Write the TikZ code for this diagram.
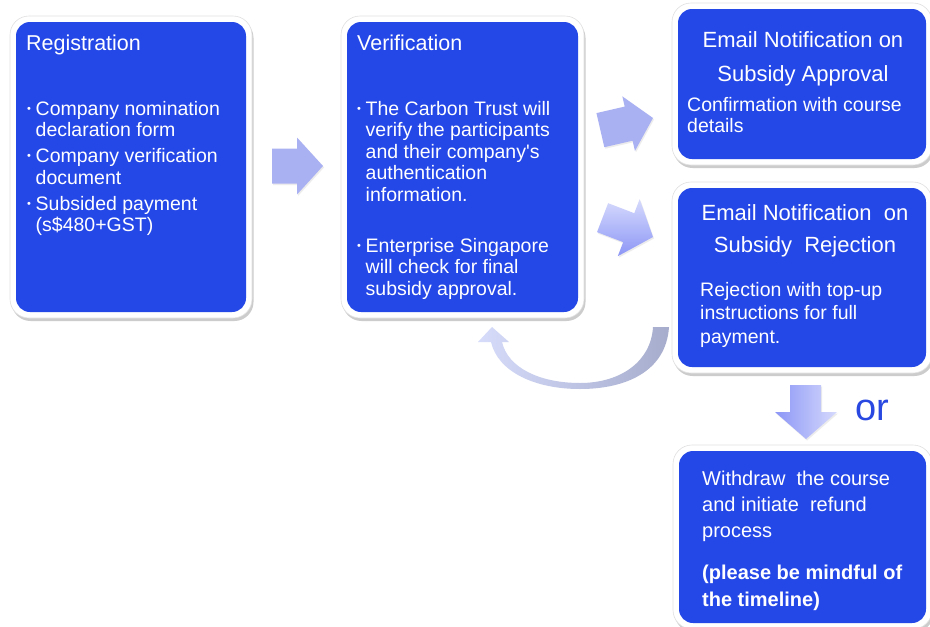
\documentclass[tikz,border=0pt]{standalone}
\usepackage{fontspec}
\setmainfont{Liberation Sans}
\usetikzlibrary{shadows}

\definecolor{boxblue}{RGB}{36,71,232}
\definecolor{arrowlav}{RGB}{170,177,242}
\definecolor{arrowlight}{RGB}{214,218,252}
\definecolor{arrowdeep}{RGB}{140,150,246}
\definecolor{curvegrey}{RGB}{166,172,204}
\definecolor{curvelight}{RGB}{214,220,250}
\definecolor{orblue}{RGB}{40,72,225}

\newcommand{\stagetitle}{\fontsize{21.5}{24}\selectfont}
\newcommand{\stagebody}{\fontsize{19.5}{21.5}\selectfont}
\newcommand{\bul}{\makebox[8.5pt][l]{\raisebox{3pt}{\fontsize{11}{11}\selectfont •}}}
\newcommand{\ind}{\hspace*{8.5pt}}
% block arrow, tip at the origin, pointing along +x
\newcommand{\flowarrow}[4]{(-#1,-#2) -- (-#4,-#2) -- (-#4,-#3) -- (0,0) -- (-#4,#3) -- (-#4,#2) -- (-#1,#2) -- cycle}

\tikzset{
  stageframe/.style={fill=white, draw=black!12, line width=0.6pt, rounded corners=19pt, inner sep=0pt,
    drop shadow={shadow xshift=1.5pt, shadow yshift=-3pt, opacity=0.4}},
  stagefill/.style={fill=boxblue, rounded corners=14pt, inner sep=0pt},
  titletext/.style={text=white, inner sep=0pt, anchor=base west, font=\stagetitle},
  boxtext/.style={text=white, inner sep=0pt, align=left, anchor=north west, font=\stagebody},
  headtext/.style={text=white, inner sep=0pt, align=center, anchor=north},
  arrowshadow/.style={drop shadow={shadow xshift=1pt, shadow yshift=-1.5pt, opacity=0.15}}
}

\begin{document}
\begin{tikzpicture}[x=1pt, y=-1pt]
    \fill[white] (0,0) rectangle (930,627);
    \useasboundingbox (0,0) rectangle (930,627);

    % Registration
    \node[stageframe, minimum width=242, minimum height=302] (reg) at (131,167) {};
    \node[stagefill, minimum width=230, minimum height=290] (reg-fill) at (reg) {};
    \node[titletext] (reg-title) at (26,50) {Registration};
    \node[boxtext] (reg-list) at (27,101) {\bul Company nomination\\ \ind declaration form\\[4.5pt]
        \bul Company verification\\ \ind document\\[4.5pt]
        \bul Subsided payment\\ \ind (s\$480+GST)};

    % Verification
    \node[stageframe, minimum width=243, minimum height=302] (ver) at (462.5,167) {};
    \node[stagefill, minimum width=231, minimum height=290] (ver-fill) at (ver) {};
    \node[titletext] (ver-title) at (357,50) {Verification};
    \node[boxtext] (ver-trust) at (357,101) {\bul The Carbon Trust will\\ \ind verify the participants\\
        \ind and their company\textquotesingle s\\ \ind authentication\\ \ind information.};
    \node[boxtext] (ver-esg) at (357,238) {\bul Enterprise Singapore\\ \ind will check for final\\
        \ind subsidy approval.};

    % Email on approval
    \node[stageframe, minimum width=260, minimum height=162] (appr) at (802,84) {};
    \node[stagefill, minimum width=248, minimum height=150] (appr-fill) at (appr) {};
    \node[headtext, font=\fontsize{22}{34}\selectfont] (appr-head) at (803,31.5)
        {Email Notification on\\Subsidy Approval};
    \node[boxtext, font=\fontsize{19.5}{21}\selectfont] (appr-text) at (687,97)
        {Confirmation with course\\details};

    % Email on rejection
    \node[stageframe, minimum width=260, minimum height=191] (rej) at (802,277.5) {};
    \node[stagefill, minimum width=248, minimum height=179] (rej-fill) at (rej) {};
    \node[headtext, font=\fontsize{22}{32}\selectfont] (rej-head) at (805,204)
        {Email Notification\ \ on\\Subsidy\ \ Rejection};
    \node[boxtext, font=\fontsize{19.5}{23.5}\selectfont] (rej-text) at (700,282)
        {Rejection with top-up\\instructions for full\\payment.};

    % Withdraw
    \node[stageframe, minimum width=259, minimum height=184] (wd) at (802.5,537) {};
    \node[stagefill, minimum width=247, minimum height=172] (wd-fill) at (wd) {};
    \node[boxtext, font=\fontsize{20}{26}\selectfont] (wd-text) at (702,470.7)
        {Withdraw\ \ the course\\and initiate\ \ refund\\process};
    \node[boxtext, font=\fontsize{20}{27}\selectfont\bfseries] (wd-note) at (702,564.5)
        {(please be mindful of\\the timeline)};

    % Block arrows
    \fill[arrowlav, arrowshadow, shift={(323,166)}] \flowarrow{51}{17.5}{28.5}{26};
    \fill[arrowlav, arrowshadow, shift={(653,118)}, rotate=13] \flowarrow{54}{17.5}{28}{25};
    \shade[top color=arrowlight, bottom color=arrowdeep, arrowshadow, shift={(653,237)}, rotate=-21]
        \flowarrow{54}{15.5}{30.5}{26};
    \shade[left color=arrowdeep, right color=arrowlight, arrowshadow]
        (790,385) -- (821,385) -- (821,412) -- (837,412) -- (806,439) -- (775,412) -- (790,412) -- cycle;
    \node[text=orblue, font=\fontsize{38}{40}\selectfont, anchor=base west, inner sep=0pt] (or-label) at (855,420) {or};

    % Curved arrow back to verification
    \shade[left color=curvelight, right color=curvegrey]
        (669,327) .. controls (666,372) and (625,389) .. (580,389)
        .. controls (535,389) and (498,372) .. (491,342)
        -- (478,342) -- (492,327) -- (509,342) -- (502,342)
        .. controls (508,368) and (540,383) .. (580,383)
        .. controls (620,383) and (651,362) .. (653,327) -- cycle;
\end{tikzpicture}
\end{document}
